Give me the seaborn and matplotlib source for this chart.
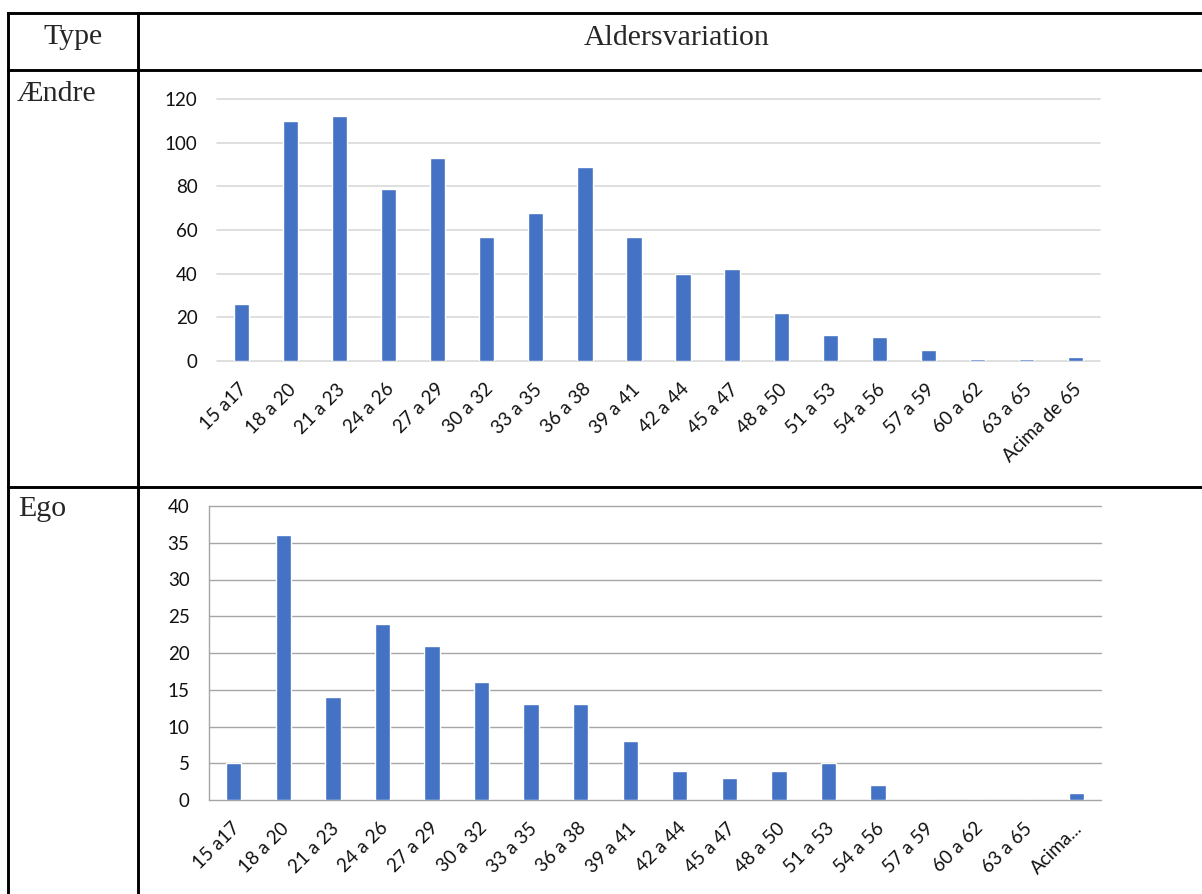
import matplotlib
matplotlib.use("Agg")
import matplotlib.pyplot as plt
import matplotlib.transforms as mtransforms
from matplotlib.lines import Line2D
import seaborn as sns
import pandas as pd

# ---- data ----
categories_top = ["15 a17", "18 a 20", "21 a 23", "24 a 26", "27 a 29", "30 a 32",
                  "33 a 35", "36 a 38", "39 a 41", "42 a 44", "45 a 47", "48 a 50",
                  "51 a 53", "54 a 56", "57 a 59", "60 a 62", "63 a 65", "Acima de 65"]
values_top = [26, 110, 112, 79, 93, 57, 68, 89, 57, 40, 42, 22, 12, 11, 5, 1, 1, 2]

categories_bottom = ["15 a17", "18 a 20", "21 a 23", "24 a 26", "27 a 29", "30 a 32",
                     "33 a 35", "36 a 38", "39 a 41", "42 a 44", "45 a 47", "48 a 50",
                     "51 a 53", "54 a 56", "57 a 59", "60 a 62", "63 a 65", "Acima..."]
values_bottom = [5, 36, 14, 24, 21, 16, 13, 13, 8, 4, 3, 4, 5, 2, 0, 0, 0, 1]

yticks_top = [0, 20, 40, 60, 80, 100, 120]
yticks_bottom = [0, 5, 10, 15, 20, 25, 30, 35, 40]

header_left = "Type"
header_right = "Aldersvariation"
row_labels = ["Ændre", "Ego"]

BAR = "#4472C4"
W, H = 1202, 894
DPI = 100

sns.set_theme(style="white")
plt.rcParams["font.family"] = ["Lato", "DejaVu Sans"]

fig = plt.figure(figsize=(W / DPI, H / DPI), dpi=DPI)
fig.patch.set_facecolor("white")


def fx(px):
    return px / W


def fy(py):
    return 1 - py / H


# ---- table lines ----
lw_tab = 2.1
for (x0, y0, x1, y1) in [
    (8, 13, 1215, 13),
    (8, 70, 1215, 70),
    (8, 487, 1215, 487),
    (8, 13, 8, 900),
    (138, 13, 138, 900),
]:
    fig.add_artist(Line2D([fx(x0), fx(x1)], [fy(y0), fy(y1)], color="black",
                          lw=lw_tab, transform=fig.transFigure, solid_capstyle="projecting"))

serif = ["Liberation Serif", "DejaVu Serif"]
fig.text(fx(73), fy(44), header_left, family=serif, fontsize=21.5, ha="center", va="baseline")
fig.text(fx(677), fy(45), header_right, family=serif, fontsize=21.5, ha="center", va="baseline")
fig.text(fx(17), fy(101), row_labels[0], family=serif, fontsize=21.5, ha="left", va="baseline")
fig.text(fx(18), fy(516), row_labels[1], family=serif, fontsize=21.5, ha="left", va="baseline")


def make_axes(left, right, top, bottom):
    return fig.add_axes([fx(left), fy(bottom), (right - left) / W, (bottom - top) / H])


def style_xlabels(ax):
    offset = mtransforms.ScaledTranslation(-3 / DPI, 0, fig.dpi_scale_trans)
    for lab in ax.get_xticklabels():
        lab.set_rotation(45)
        lab.set_ha("right")
        lab.set_va("top")
        lab.set_rotation_mode("anchor")
        lab.set_transform(lab.get_transform() + offset)


LABEL_SIZE = 13.5
LABEL_COLOR = "#111111"

# ---- top chart ----
ax1 = make_axes(217, 1100, 99, 361)
df1 = pd.DataFrame({"cat": categories_top, "val": values_top})
sns.barplot(data=df1, x="cat", y="val", ax=ax1, color=BAR, saturation=1, width=0.31,
            order=categories_top)
ax1.set_xlim(-0.5, len(categories_top) - 0.5)
ax1.set_ylim(0, 120)
ax1.set_yticks(yticks_top)
ax1.set_axisbelow(True)
ax1.yaxis.grid(True, color="#d9d9d9", lw=1.2)
ax1.xaxis.grid(False)
for gl in ax1.get_ygridlines():
    gl.set_clip_on(False)
for s in ax1.spines.values():
    s.set_visible(False)
ax1.set_xlabel("")
ax1.set_ylabel("")
ax1.tick_params(axis="both", length=0, labelsize=LABEL_SIZE, colors=LABEL_COLOR)
ax1.tick_params(axis="y", pad=14)
ax1.tick_params(axis="x", pad=14)
ax1.set_facecolor("none")
style_xlabels(ax1)

# ---- bottom chart ----
ax2 = make_axes(209, 1101, 506, 800)
df2 = pd.DataFrame({"cat": categories_bottom, "val": values_bottom})
sns.barplot(data=df2, x="cat", y="val", ax=ax2, color=BAR, saturation=1, width=0.31,
            order=categories_bottom)
ax2.set_xlim(-0.5, len(categories_bottom) - 0.5)
ax2.set_ylim(0, 40)
ax2.set_yticks(yticks_bottom)
ax2.set_axisbelow(True)
ax2.yaxis.grid(True, color="#a6a6a6", lw=1.0)
ax2.xaxis.grid(False)
for gl in ax2.get_ygridlines():
    gl.set_clip_on(False)
for name, s in ax2.spines.items():
    s.set_visible(name == "left")
ax2.spines["left"].set_color("#a6a6a6")
ax2.spines["left"].set_linewidth(1.0)
ax2.set_xlabel("")
ax2.set_ylabel("")
ax2.tick_params(axis="both", length=0, labelsize=LABEL_SIZE, colors=LABEL_COLOR)
ax2.tick_params(axis="y", pad=14)
ax2.tick_params(axis="x", pad=14)
ax2.set_facecolor("none")
style_xlabels(ax2)

fig.savefig("out.png", dpi=DPI, facecolor="white")
